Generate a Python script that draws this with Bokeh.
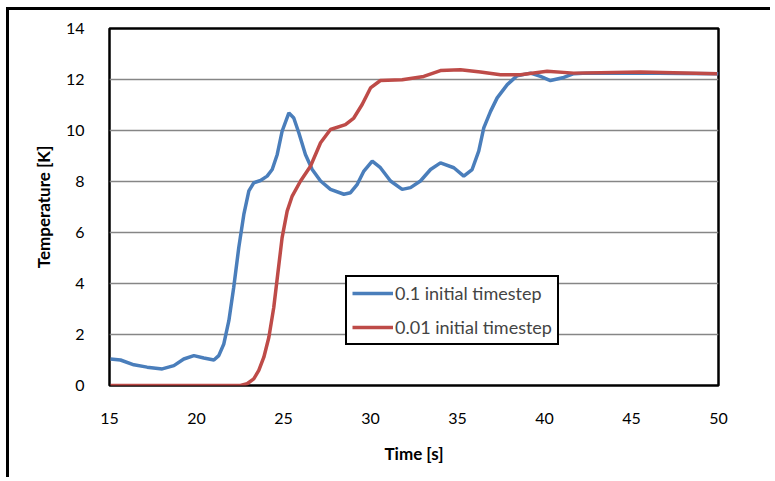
from bokeh.plotting import figure
from bokeh.models import Range1d, FixedTicker, Legend, LegendItem
from bokeh.embed import file_html
from bokeh.resources import INLINE

# --- data ---
blue_t = [15.06, 15.63, 16.40, 17.16, 18.03, 18.70, 19.27, 19.85, 20.42, 21.00,
          21.28, 21.57, 21.86, 22.14, 22.43, 22.72, 23.01, 23.29, 23.68, 24.06,
          24.35, 24.64, 24.92, 25.31, 25.59, 25.88, 26.26, 26.65, 27.13, 27.70,
          28.47, 28.85, 29.24, 29.62, 30.10, 30.57, 31.15, 31.82, 32.30, 32.87,
          33.45, 34.02, 34.79, 35.36, 35.84, 36.22, 36.51, 36.90, 37.28, 37.86,
          38.43, 39.20, 39.77, 40.34, 41.11, 41.68, 42.45, 45.13, 48.00, 50.00]
blue_T = [1.04, 1.00, 0.81, 0.72, 0.65, 0.78, 1.04, 1.17, 1.08, 1.00,
          1.17, 1.63, 2.54, 3.85, 5.41, 6.71, 7.63, 7.95, 8.04, 8.21,
          8.47, 9.06, 9.97, 10.69, 10.49, 9.91, 9.06, 8.47, 8.02, 7.69,
          7.50, 7.56, 7.89, 8.41, 8.80, 8.54, 8.02, 7.69, 7.76, 8.02,
          8.47, 8.73, 8.54, 8.21, 8.47, 9.19, 10.10, 10.75, 11.28, 11.80,
          12.15, 12.25, 12.12, 11.96, 12.08, 12.23, 12.25, 12.25, 12.24, 12.23]

red_t = [15.06, 22.53, 22.91, 23.29, 23.58, 23.87, 24.16, 24.44, 24.67, 24.92,
         25.21, 25.50, 25.98, 26.55, 27.13, 27.70, 28.56, 29.04, 29.52, 30.00,
         30.57, 31.82, 33.06, 34.02, 35.17, 36.32, 37.47, 38.62, 40.15, 41.68,
         45.52, 49.93]
red_T = [0.0, 0.0, 0.07, 0.26, 0.59, 1.11, 1.89, 3.06, 4.37, 5.80,
         6.84, 7.43, 8.02, 8.60, 9.52, 10.04, 10.23, 10.49, 11.02, 11.67,
         11.96, 11.99, 12.12, 12.35, 12.38, 12.29, 12.19, 12.19, 12.32, 12.25,
         12.29, 12.23]

x_ticks = [15, 20, 25, 30, 35, 40, 45, 50]
y_ticks = [0, 2, 4, 6, 8, 10, 12, 14]
series_names = ["0.1 initial timestep", "0.01 initial timestep"]

FONT = "Lato"

p = figure(width=764, height=470, output_backend="svg", toolbar_location=None,
           x_range=Range1d(15, 50), y_range=Range1d(0, 14),
           min_border_left=100, min_border_right=55, min_border_top=18,
           min_border_bottom=95)
p.styles = {"border-top": "3px solid black", "border-left": "3px solid black",
            "margin-top": "7px", "margin-left": "6px"}

p.outline_line_color = "black"
p.outline_line_width = 2.5
p.background_fill_color = "white"
p.border_fill_color = "white"

p.xgrid.visible = False
p.ygrid.grid_line_color = "#868686"
p.ygrid.grid_line_width = 1.5
p.ygrid.ticker = FixedTicker(ticks=y_ticks)

p.xaxis.ticker = FixedTicker(ticks=x_ticks)
p.yaxis.ticker = FixedTicker(ticks=y_ticks)
for ax in (p.xaxis[0], p.yaxis[0]):
    ax.axis_line_color = None
    ax.major_tick_line_color = None
    ax.minor_tick_line_color = None
    ax.major_label_text_font = FONT
    ax.major_label_text_font_size = "16px"
    ax.major_label_text_color = "black"
    ax.axis_label_text_font = FONT
    ax.axis_label_text_font_style = "bold"
    ax.axis_label_text_font_size = "17px"
    ax.axis_label_text_color = "black"

p.xaxis.axis_label = "Time [s]"
p.yaxis.axis_label = "Temperature [K]"
p.xaxis.major_label_standoff = 21
p.xaxis.axis_label_standoff = 16
p.yaxis.major_label_standoff = 19
p.yaxis.axis_label_standoff = 9

r1 = p.line(blue_t, blue_T, line_color="#4A7EBB", line_width=3.5)
r2 = p.line(red_t, red_T, line_color="#BE4B48", line_width=3.5)

legend = Legend(items=[LegendItem(label=series_names[0], renderers=[r1]),
                       LegendItem(label=series_names[1], renderers=[r2])],
                location=(236, 40))
legend.border_line_color = "black"
legend.border_line_alpha = 1
legend.border_line_width = 2
legend.background_fill_alpha = 1
legend.label_text_font = FONT
legend.label_text_font_size = "18px"
legend.glyph_width = 41
legend.glyph_height = 18
legend.label_height = 18
legend.padding = 5
legend.spacing = 12
legend.margin = 0
legend.label_standoff = 2
p.add_layout(legend, "center")

open("out.html", "w").write(file_html(p, INLINE))
